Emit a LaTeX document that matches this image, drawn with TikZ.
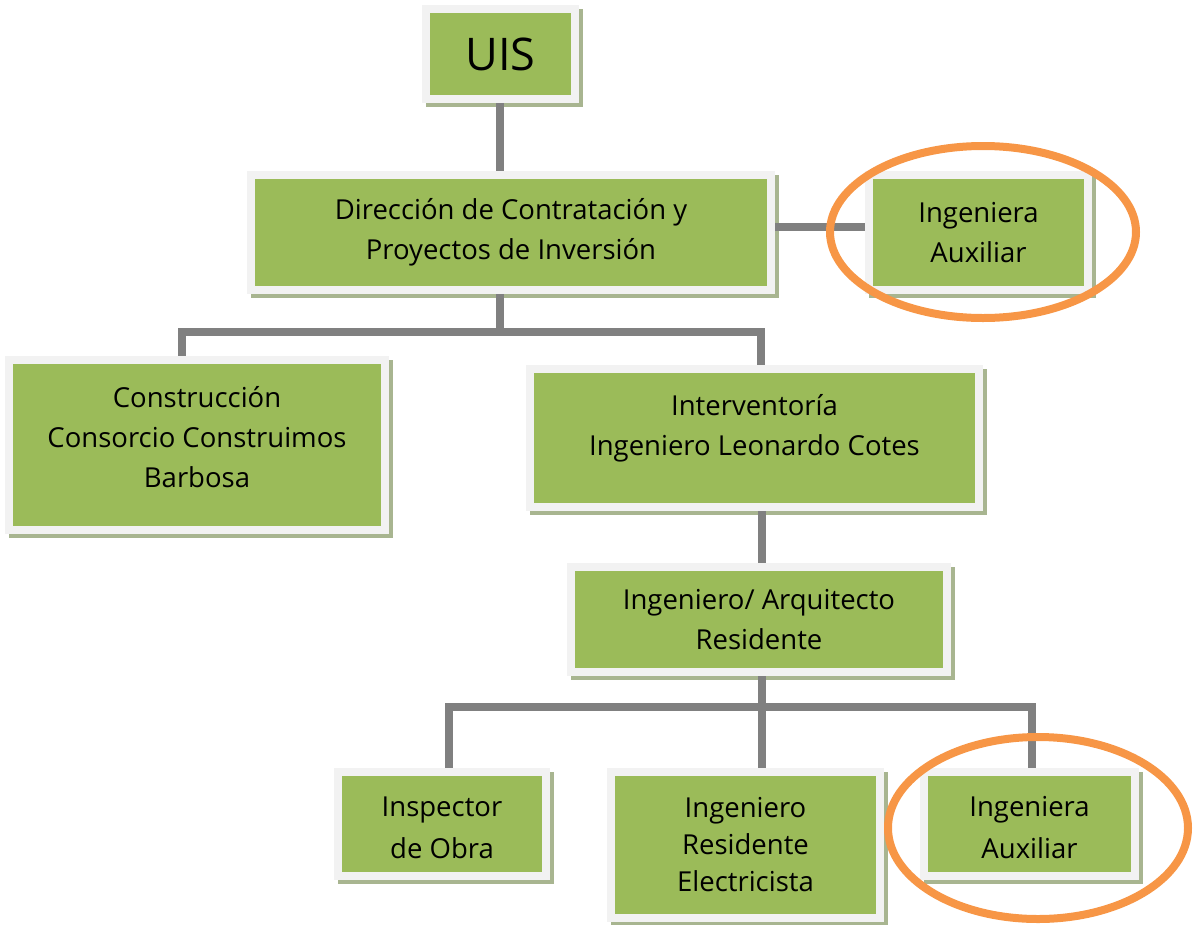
\documentclass[tikz,border=0pt]{standalone}
\usepackage{fontspec}
\setmainfont{Open Sans}
\usetikzlibrary{backgrounds,calc,shapes.geometric}
\definecolor{boxgreen}{HTML}{9BBB59}
\definecolor{framec}{HTML}{F2F2F2}
\definecolor{shadowc}{HTML}{A8B590}
\definecolor{connc}{HTML}{808080}
\definecolor{ringc}{HTML}{F79646}
\tikzset{
  orgbox/.style={draw=framec, line width=8pt, fill=boxgreen, inner sep=0pt, outer sep=4pt,
    align=center, font=\fontsize{27.5}{40}\selectfont},
  boxtext/.style={inner sep=0pt, align=center, font=\fontsize{27.5}{40}\selectfont},
  conn/.style={draw=connc, line width=8pt},
  ring/.style={draw=ringc, line width=8pt},
}
\begin{document}
\begin{tikzpicture}[x=1pt,y=-1pt]
\useasboundingbox (0,0) rectangle (1194,924);

% boxes (minimum size = green area + 8)
\node[orgbox, minimum width=149pt, minimum height=90pt, font=\fontsize{45}{50}\selectfont] (uis) at (500.5,54) {UIS};
\node[orgbox, minimum width=520pt, minimum height=115pt] (dir) at (511,232.5) {Dirección de Contratación y\\Proyectos de Inversión};
\node[orgbox, minimum width=219pt, minimum height=115pt] (inga) at (978.5,232.5) {Ingeniera\\Auxiliar};
\node[orgbox, minimum width=376pt, minimum height=170pt] (constr) at (197,445) {};
\node[boxtext] (constrt) at ([yshift=8pt]constr.center) {Construcción\\Consorcio Construimos\\Barbosa};
\node[orgbox, minimum width=449pt, minimum height=138pt] (interv) at (754.5,438) {};
\node[boxtext] (intervt) at ([yshift=10pt]interv.center) {Interventoría\\Ingeniero Leonardo Cotes};
\node[orgbox, minimum width=376pt, minimum height=105pt] (ingarq) at (759,619.5) {Ingeniero/ Arquitecto\\Residente};
\node[orgbox, minimum width=208pt, minimum height=104pt, font=\fontsize{27.5}{42}\selectfont] (insp) at (442,824) {};
\node[boxtext] (inspt) at ([yshift=-4pt]insp.center) {Inspector\\[2pt]de Obra};
\node[orgbox, minimum width=269pt, minimum height=146pt, font=\fontsize{27.5}{37}\selectfont] (elec) at (745.5,845) {Ingeniero\\Residente\\Electricista};
\node[orgbox, minimum width=211pt, minimum height=104pt] (ingb) at (1029.5,824) {};
\node[boxtext] (ingbt) at ([yshift=-4pt]ingb.center) {Ingeniera\\[2pt]Auxiliar};

% coordinates for connector lines
\coordinate (bar1) at (500,332);
\coordinate (x1l) at (182,0);
\coordinate (x1r) at (761,0);
\coordinate (bar2) at (762,707);
\coordinate (x2l) at (449,0);
\coordinate (x2r) at (1032,0);

\begin{scope}[on background layer]
  \foreach \n in {uis,dir,inga,constr,interv,ingarq,insp,elec,ingb}
    \fill[shadowc] ([shift={(4pt,-4pt)}]\n.south west) rectangle ([shift={(4pt,-4pt)}]\n.north east);
  \draw[conn] (uis.south -| bar1) -- (dir.north -| bar1);
  \draw[conn] ([yshift=5.5pt]dir.east) -- ([yshift=5.5pt]inga.west);
  \draw[conn] (dir.south -| bar1) -- (bar1);
  \draw[conn] (constr.north -| x1l) |- (bar1) -| (interv.north -| x1r);
  \draw[conn] (interv.south -| bar2) -- (ingarq.north -| bar2);
  \draw[conn] (ingarq.south -| bar2) -- (bar2);
  \draw[conn] (insp.north -| x2l) |- (bar2) -| (ingb.north -| x2r);
  \draw[conn] (bar2) -- (elec.north -| bar2);
\end{scope}

% highlight rings
\node[ring, ellipse, draw, minimum width=306pt, minimum height=172pt, inner sep=0pt] (ring1) at (983,232) {};
\node[ring, ellipse, draw, minimum width=300pt, minimum height=182pt, inner sep=0pt] (ring2) at (1038,828) {};
\end{tikzpicture}
\end{document}
